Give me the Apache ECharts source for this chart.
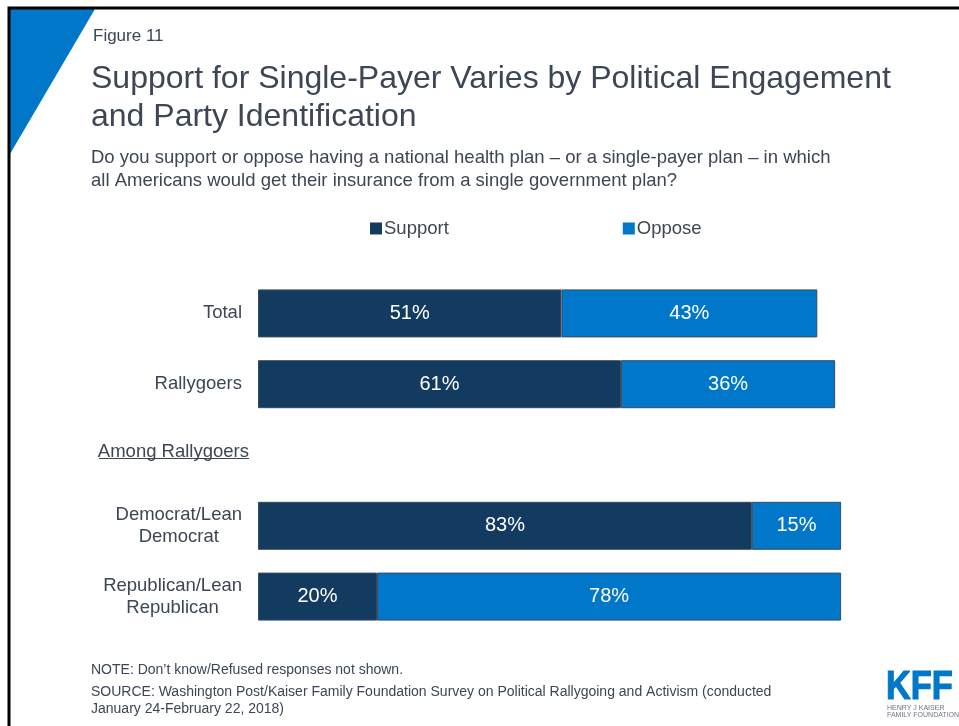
<!DOCTYPE html>
<html>
<head>
<meta charset="utf-8">
<script src="https://cdn.jsdelivr.net/npm/echarts@6/dist/echarts.min.js"></script>
<style>
  html, body { margin: 0; padding: 0; background: #ffffff; }
  #chart { width: 959px; height: 726px; }
</style>
</head>
<body>
<div id="chart"></div>
<script>
// Survey groups (top to bottom); the blank row holds the "Among Rallygoers" heading
const categories = ['Total', 'Rallygoers', 'Among Rallygoers', 'Democrat/Lean Democrat', 'Republican/Lean Republican'];
const headingCategory = 'Among Rallygoers';
// Shares in percent
const supportValues = [51, 61, null, 83, 20];
const opposeValues = [43, 36, null, 15, 78];
const seriesNames = ['Support', 'Oppose'];

const FONT = '"Liberation Sans", Arial, Helvetica, sans-serif';
const TEXT = '#3c4655';
const NAVY = '#123b5f';
const BLUE = '#0077c8';

const chart = echarts.init(document.getElementById('chart'), null, { renderer: 'canvas' });

function categoryLabel(value) {
  if (value === headingCategory) return '{h|' + value + '}';
  const cut = value.indexOf('/Lean ');
  if (cut >= 0) {
    const first = value.slice(0, cut + 5);
    const second = value.slice(cut + 6);
    return '{c|' + first + '}\n{c|' + second + '}';
  }
  return '{s|' + value + '}';
}

const barLabel = {
  show: true,
  position: 'inside',
  color: '#ffffff',
  fontFamily: FONT,
  fontSize: 20,
  formatter: p => p.value + '%'
};

const option = {
  backgroundColor: '#ffffff',
  animation: false,
  textStyle: { fontFamily: FONT },
  legend: {
    data: seriesNames,
    left: 365,
    top: 214,
    itemWidth: 12,
    itemHeight: 12,
    itemGap: 174,
    icon: 'rect',
    selectedMode: false,
    itemStyle: { borderWidth: 0 },
    textStyle: { color: TEXT, fontSize: 18.5, fontFamily: FONT, padding: [0, 0, 0, -3] }
  },
  grid: { left: 258, right: 106, top: 278, bottom: 94, containLabel: false },
  xAxis: {
    type: 'value', min: 0, max: 100,
    show: false
  },
  yAxis: {
    type: 'category',
    data: categories,
    inverse: true,
    axisLine: { show: false },
    axisTick: { show: false },
    axisLabel: {
      margin: 9,
      color: TEXT,
      fontFamily: FONT,
      fontSize: 18.5,
      formatter: categoryLabel,
      rich: {
        s: { fontSize: 18.5, color: TEXT, fontFamily: FONT, padding: [0, 7, 0, 0] },
        c: { fontSize: 18.5, color: TEXT, fontFamily: FONT, align: 'center', lineHeight: 22, padding: [0, 7, 0, 0] },
        h: { fontSize: 18.5, color: TEXT, fontFamily: FONT, padding: [0, 0, 6, 0] }
      }
    }
  },
  series: [
    {
      name: seriesNames[0], type: 'bar', stack: 'share', barWidth: 48,
      data: supportValues,
      itemStyle: { color: NAVY, borderColor: '#3a4a5c', borderWidth: 1 },
      label: barLabel
    },
    {
      name: seriesNames[1], type: 'bar', stack: 'share', barWidth: 48,
      data: opposeValues,
      itemStyle: { color: BLUE, borderColor: '#3a4a5c', borderWidth: 1 },
      label: barLabel
    }
  ],
  graphic: [
    // slide frame
    { type: 'polyline', shape: { points: [[9, 726], [9, 8], [959, 8]] },
      style: { stroke: '#000000', lineWidth: 3, fill: null }, z: 10 },
    // corner accent
    { type: 'polygon', shape: { points: [[10, 9], [95, 9], [10, 154]] },
      style: { fill: BLUE }, z: 9 },
    { type: 'text', left: 93, top: 28,
      style: { text: 'Figure 11', fontSize: 17, fontFamily: FONT, fill: TEXT } },
    { type: 'text', left: 91, top: 60,
      style: { text: 'Support for Single-Payer Varies by Political Engagement\nand Party Identification',
               fontSize: 32, lineHeight: 38, fontFamily: FONT, fill: TEXT } },
    { type: 'text', left: 91, top: 146,
      style: { text: 'Do you support or oppose having a national health plan \u2013 or a single-payer plan \u2013 in which\nall Americans would get their insurance from a single government plan?',
               fontSize: 18.5, lineHeight: 23.5, fontFamily: FONT, fill: TEXT } },
    // underline for the group heading
    { type: 'line', shape: { x1: 99, y1: 458.5, x2: 249, y2: 458.5 },
      style: { stroke: TEXT, lineWidth: 1 } },
    { type: 'text', left: 91, top: 663,
      style: { text: 'NOTE: Don\u2019t know/Refused responses not shown.',
               fontSize: 14, fontFamily: FONT, fill: TEXT } },
    { type: 'text', left: 91, top: 684,
      style: { text: 'SOURCE: Washington Post/Kaiser Family Foundation Survey on Political Rallygoing and Activism (conducted\nJanuary 24-February 22, 2018)',
               fontSize: 14, lineHeight: 17, fontFamily: FONT, fill: TEXT } },
    // KFF logo
    { type: 'text', x: 886, y: 668, scaleX: 0.86,
      style: { text: 'KFF', fontSize: 40, fontWeight: 'bold', fontFamily: FONT, fill: BLUE,
               stroke: BLUE, lineWidth: 1.2 } },
    { type: 'text', left: 887, top: 704,
      style: { text: 'HENRY J KAISER\nFAMILY FOUNDATION', fontSize: 7, lineHeight: 7.5, fontFamily: FONT, fill: '#6d7782' } }
  ]
};

chart.setOption(option);
</script>
</body>
</html>
